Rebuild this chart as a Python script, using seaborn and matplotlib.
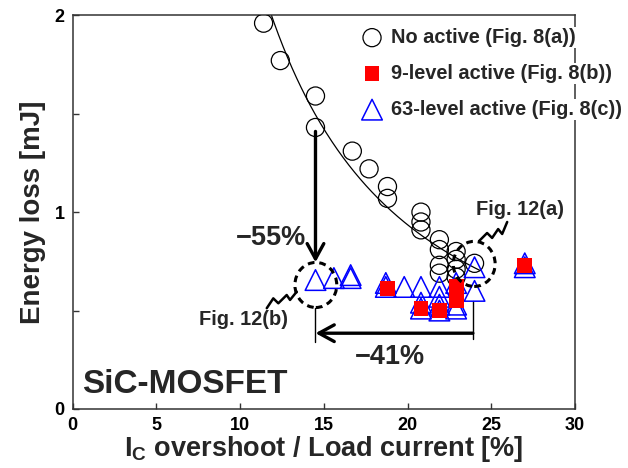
import numpy as np
import pandas as pd
import matplotlib
matplotlib.use("Agg")
import matplotlib.pyplot as plt
from matplotlib.patches import Ellipse
import seaborn as sns

# ---------------- data ----------------
no_active_x = [11.4, 12.4, 14.5, 14.5, 16.7, 17.7, 18.8, 18.8, 20.8, 20.8, 20.8,
               21.9, 21.9, 21.9, 21.9, 22.9, 22.9, 22.9, 22.9, 24.0]
no_active_y = [1.96, 1.77, 1.59, 1.43, 1.31, 1.22, 1.13, 1.07, 1.00, 0.95, 0.91,
               0.86, 0.81, 0.73, 0.69, 0.80, 0.76, 0.71, 0.67, 0.74]

lvl9_x = [18.8, 20.8, 21.9, 22.9, 22.9, 22.9, 27.0]
lvl9_y = [0.61, 0.51, 0.50, 0.62, 0.58, 0.55, 0.73]

lvl63_x = [14.5, 15.6, 16.6, 16.6, 18.7, 18.7, 19.8, 20.8, 20.8, 20.8, 21.9, 21.9,
           21.9, 21.9, 22.9, 22.9, 22.9, 24.0, 24.0, 27.0, 27.0]
lvl63_y = [0.655, 0.665, 0.68, 0.665, 0.64, 0.62, 0.62, 0.62, 0.54, 0.51, 0.62, 0.57,
           0.53, 0.50, 0.64, 0.53, 0.51, 0.72, 0.60, 0.74, 0.72]

labels = ["No active (Fig. 8(a))", "9-level active (Fig. 8(b))", "63-level active (Fig. 8(c))"]
x_ticks = [0, 5, 10, 15, 20, 25, 30]
y_ticks = [0, 0.5, 1, 1.5, 2]
y_ticklabels = ["0", "", "1", "", "2"]

# ---------------- style ----------------
sns.set_style("ticks")
plt.rcParams["font.family"] = ["Liberation Sans", "DejaVu Sans"]
plt.rcParams["font.weight"] = "bold"
plt.rcParams["mathtext.fontset"] = "custom"
plt.rcParams["mathtext.rm"] = "Liberation Sans:bold"
plt.rcParams["mathtext.it"] = "Liberation Sans:bold"
plt.rcParams["mathtext.bf"] = "Liberation Sans:bold"
plt.rcParams["axes.unicode_minus"] = True

fig = plt.figure(figsize=(6.28, 4.68), dpi=100)
ax = fig.add_axes([0.1158, 0.1261, 0.7998, 0.8412])

df_no = pd.DataFrame({"x": no_active_x, "y": no_active_y})
df_9 = pd.DataFrame({"x": lvl9_x, "y": lvl9_y})
df_63 = pd.DataFrame({"x": lvl63_x, "y": lvl63_y})

# power-law trend line fitted to the no-active data
b, loga = np.polyfit(np.log(df_no["x"]), np.log(df_no["y"]), 1)
xf = np.linspace(10.8, 24.3, 200)
df_fit = pd.DataFrame({"x": xf, "y": np.exp(loga) * xf ** b})
sns.lineplot(data=df_fit, x="x", y="y", ax=ax, color="black", lw=0.9, zorder=2, legend=False)

sns.scatterplot(data=df_no, x="x", y="y", ax=ax, marker="o", s=170,
                facecolor="none", edgecolor="black", linewidth=0.9, label=labels[0], zorder=3)
sns.scatterplot(data=df_63, x="x", y="y", ax=ax, marker="^", s=220,
                facecolor="none", edgecolor="#0000FF", linewidth=1.1, label=labels[2], zorder=3)
sns.scatterplot(data=df_9, x="x", y="y", ax=ax, marker="s", s=115,
                color="#FF0000", edgecolor="none", linewidth=0, label=labels[1], zorder=4)

ax.set_xlim(0, 30)
ax.set_ylim(0, 2)
ax.set_xticks(x_ticks)
ax.set_yticks(y_ticks)
ax.set_yticklabels(y_ticklabels)
ax.tick_params(direction="in", length=4, width=1, colors="#333333", labelcolor="black",
               labelsize=13, pad=6)
for s in ax.spines.values():
    s.set_color("#333333")
    s.set_linewidth(1.1)

ax.set_xlabel("I$_{C}$ overshoot / Load current [%]", fontsize=19.5, fontweight="bold", labelpad=0)
ax.set_ylabel("Energy loss [mJ]", fontsize=20, fontweight="bold", labelpad=6)

# legend
h, l = ax.get_legend_handles_labels()
order = [labels.index(t) for t in l]
hs = [x for _, x in sorted(zip(order, h), key=lambda p: p[0])]
ls = [x for _, x in sorted(zip(order, l), key=lambda p: p[0])]
leg = ax.legend(hs, ls, loc="upper left", bbox_to_anchor=(0.572, 0.968), frameon=False,
                fontsize=14.4, handletextpad=0.35, labelspacing=0.85, borderpad=0,
                handlelength=1.2, borderaxespad=0)
for t in leg.get_texts():
    t.set_fontweight("bold")
    t.set_bbox(dict(facecolor="white", edgecolor="none", pad=1))

# annotations
ax.text(0.54, 0.08, "SiC-MOSFET", fontsize=24, fontweight="bold", ha="left", va="baseline")
ax.text(11.85, 0.869, "\u221255%", fontsize=19.5, fontweight="bold", ha="center", va="center")
ax.text(18.95, 0.266, "\u221241%", fontsize=19.5, fontweight="bold", ha="center", va="center")
ax.text(26.7, 1.011, "Fig. 12(a)", fontsize=14.4, fontweight="bold", ha="center", va="center")
ax.text(10.2, 0.456, "Fig. 12(b)", fontsize=14.4, fontweight="bold", ha="center", va="center")

arrow_kw = dict(arrowstyle="->,head_length=0.55,head_width=0.3", lw=2.4, color="black",
                shrinkA=0, shrinkB=0, mutation_scale=20)
ax.annotate("", xy=(14.5, 0.745), xytext=(14.5, 1.41), arrowprops=arrow_kw)
ax.annotate("", xy=(14.5, 0.385), xytext=(23.9, 0.385), arrowprops=arrow_kw)
ax.plot([14.5, 14.5], [0.512, 0.342], color="black", lw=1)
ax.plot([23.9, 23.9], [0.55, 0.355], color="black", lw=1)

for cx, cy in [(14.52, 0.63), (23.98, 0.737)]:
    ax.add_patch(Ellipse((cx, cy), 2.5, 0.229, fill=False, ec="black", lw=2.2,
                         ls=(0, (2.2, 1.6)), zorder=5))

sq_a_x = [24.27, 24.75, 25.05, 25.41, 25.65, 25.95]
sq_a_y = [0.853, 0.894, 0.869, 0.914, 0.889, 0.950]
sq_b_x = [11.59, 11.98, 12.28, 12.78, 12.98, 13.38]
sq_b_y = [0.512, 0.562, 0.537, 0.579, 0.554, 0.596]
ax.plot(sq_a_x, sq_a_y, color="black", lw=1.8, solid_joinstyle="round")
ax.plot(sq_b_x, sq_b_y, color="black", lw=1.8, solid_joinstyle="round")

fig.savefig("out.png", dpi=100)
